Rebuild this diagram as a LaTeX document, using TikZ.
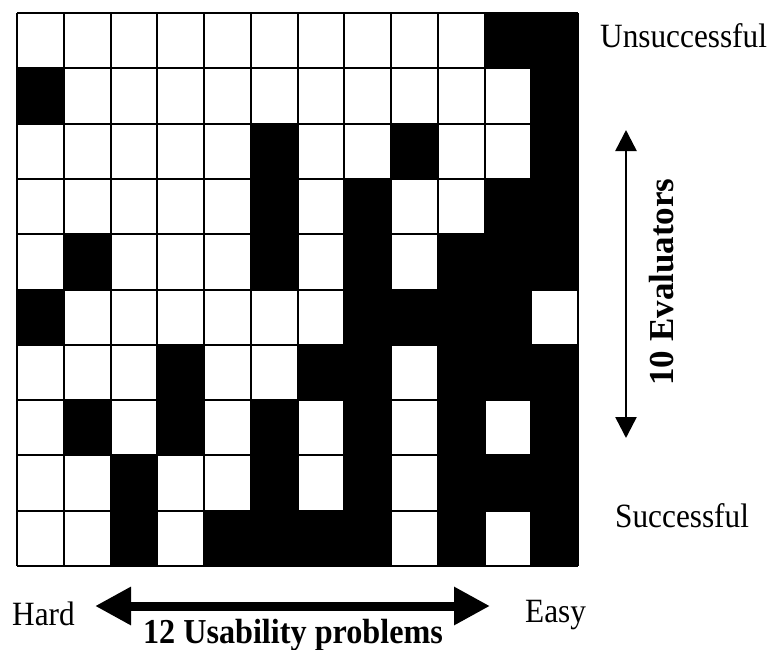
\documentclass[tikz,border=0pt]{standalone}
\usepackage{fontspec}
\setmainfont{Liberation Serif}[FakeStretch=0.92]
\newfontfamily\uprightlabel{Liberation Serif}
\usetikzlibrary{arrows.meta}
\tikzset{>={Triangle[length=36pt,width=36pt]}}

\begin{document}
\begin{tikzpicture}[
    x=1pt, y=-1pt,
    every node/.style={
        inner sep=0pt,
        font=\fontsize{34}{40}\selectfont
        },
    endlabel/.style={anchor=base west},
    bigarrow/.style={<->, line width=9pt},
    thinarrow/.style={
        {Triangle[length=21pt,width=21pt]}-{Triangle[length=21pt,width=21pt]},
        line width=2.5pt}
    ]
    \useasboundingbox (0,0) rectangle (772,649);

    % evaluators x problems
    \begin{scope}[shift={(17,13)}, xscale=46.75, yscale=55.3]
    \foreach \r/\cells in {
        1/{0,0,0,0,0,0,0,0,0,0,1,1},
        2/{1,0,0,0,0,0,0,0,0,0,0,1},
        3/{0,0,0,0,0,1,0,0,1,0,0,1},
        4/{0,0,0,0,0,1,0,1,0,0,1,1},
        5/{0,1,0,0,0,1,0,1,0,1,1,1},
        6/{1,0,0,0,0,0,0,1,1,1,1,0},
        7/{0,0,0,1,0,0,1,1,0,1,1,1},
        8/{0,1,0,1,0,1,0,1,0,1,0,1},
        9/{0,0,1,0,0,1,0,1,0,1,1,1},
        10/{0,0,1,0,1,1,1,1,0,1,0,1}}
      \foreach \v [count=\c] in \cells {
        \ifnum\v=1 \fill (\c-1,\r-1) rectangle (\c,\r); \fi
      };
    \foreach \c in {0,...,12}
      \draw[line width=2pt] (\c,0) -- (\c,10);
    \foreach \r in {0,...,10}
      \draw[line width=2pt] (0,\r) -- (12,\r);
    \end{scope}

    \node[endlabel] (unsucc) at (600,47)  {Unsuccessful};
    \node[endlabel] (succ)   at (615,527) {Successful};
    \node[endlabel] (hard)   at (12,625)  {Hard};
    \node[endlabel] (easy)   at (525,622) {Easy};
    \node[anchor=base, font=\fontsize{35}{42}\selectfont\bfseries] (problems) at (293,643) {12 Usability problems};
    \node[rotate=90, font=\uprightlabel\fontsize{35}{42}\selectfont\bfseries] (evaluators) at (662,282) {10 Evaluators};

    \coordinate (hardtip)   at (95,606);
    \coordinate (easytip)   at (490,606);
    \coordinate (unsucctip) at (626,130);
    \coordinate (succtip)   at (626,438);

    \draw[bigarrow] (hardtip) -- (easytip);
    \draw[thinarrow] (unsucctip) -- (succtip);
\end{tikzpicture}
\end{document}
